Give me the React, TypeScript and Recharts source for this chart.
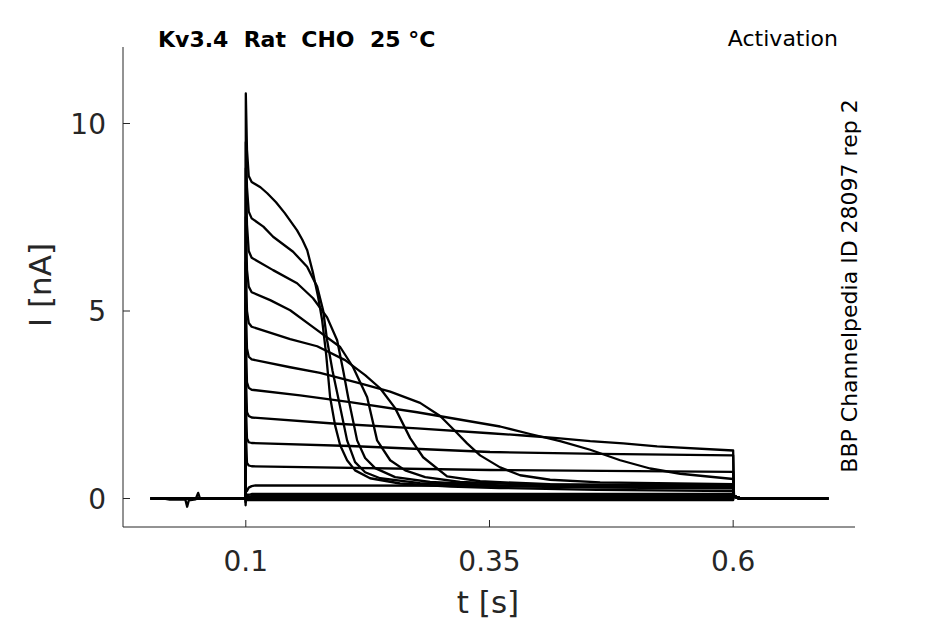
import { Line, LineChart, XAxis, YAxis } from "recharts";

type Point = [number, number];

const xTicks = [0.1, 0.35, 0.6];
const yTicks = [0, 5, 10];
const xDomain: [number, number] = [-0.026, 0.725];
const yDomain: [number, number] = [-0.76, 12.04];

// holding potential before the step (one sweep has a small artefact)
const holdingWithBlip: Point[] = [
  [0.0025, 0], [0.016, 0], [0.022, -0.03], [0.03, -0.02], [0.038, -0.03],
  [0.0398, -0.22], [0.0415, -0.05], [0.0485, -0.02], [0.0511, 0.15],
  [0.053, 0], [0.0995, 0],
];
const holding: Point[] = [[0.0025, 0], [0.0995, 0]];

// after the step back at 0.6 s
const tail: Point[] = [[0.6008, 0.08], [0.604, 0.02], [0.609, 0], [0.6975, 0]];

// sweeps during the step, largest first
const sweep1: Point[] = [
  [0.0998, -0.1], [0.1, 10.8], [0.1012, 9.3], [0.103, 8.6], [0.106, 8.44],
  [0.115, 8.3], [0.122, 8.14], [0.131, 7.9], [0.14, 7.61], [0.1526, 7.15],
  [0.158, 6.9], [0.163, 6.62], [0.169, 6.01], [0.1742, 5.37], [0.1783, 4.76],
  [0.1824, 3.85], [0.1865, 2.7], [0.1916, 1.95], [0.1968, 1.42], [0.2039, 1.02],
  [0.2121, 0.75], [0.2275, 0.54], [0.2583, 0.4], [0.31, 0.32], [0.36, 0.28],
  [0.46, 0.23], [0.6, 0.2],
];
const sweep2: Point[] = [
  [0.1, 9.5], [0.1012, 8.3], [0.103, 7.65], [0.106, 7.47], [0.118, 7.25],
  [0.128, 6.98], [0.1485, 6.58], [0.1629, 6.18], [0.1732, 5.65], [0.1793, 5.02],
  [0.1834, 4.22], [0.189, 3.4], [0.1947, 2.7], [0.2039, 1.55], [0.2121, 0.97],
  [0.2224, 0.7], [0.2378, 0.54], [0.2788, 0.41], [0.3609, 0.33], [0.4635, 0.29],
  [0.6, 0.27],
];
const sweep3: Point[] = [
  [0.1, 8.8], [0.1012, 7.3], [0.103, 6.6], [0.106, 6.42], [0.128, 6.09],
  [0.1526, 5.74], [0.169, 5.34], [0.1834, 4.83], [0.1937, 4.22], [0.2, 3.4],
  [0.205, 2.7], [0.2142, 1.55], [0.2224, 1.08], [0.2327, 0.81], [0.2532, 0.57],
  [0.2891, 0.44], [0.3609, 0.35], [0.4635, 0.32], [0.6, 0.3],
];
const sweep4: Point[] = [
  [0.1, 7.5], [0.1012, 6.1], [0.103, 5.65], [0.106, 5.5], [0.125, 5.29],
  [0.1455, 5.02], [0.169, 4.57], [0.1968, 4.04], [0.2101, 3.5], [0.2245, 2.7],
  [0.2347, 1.55], [0.2481, 1.02], [0.2635, 0.75], [0.284, 0.57], [0.3199, 0.44],
  [0.3814, 0.38], [0.4635, 0.35], [0.6, 0.33],
];
const sweep5: Point[] = [
  [0.1, 6.3], [0.1012, 5.0], [0.103, 4.68], [0.106, 4.58], [0.1455, 4.25],
  [0.1732, 4.06], [0.2019, 3.69], [0.2224, 3.29], [0.2378, 2.94], [0.2532, 2.41],
  [0.2686, 1.61], [0.2819, 1.1], [0.3065, 0.59], [0.3404, 0.46], [0.4122, 0.38],
  [0.5148, 0.36], [0.6, 0.35],
];
const sweep6: Point[] = [
  [0.1, 5.2], [0.1012, 4.0], [0.103, 3.78], [0.106, 3.71], [0.1455, 3.5],
  [0.1762, 3.35], [0.2173, 3.07], [0.2481, 2.85], [0.2788, 2.55], [0.2994, 2.2],
  [0.3147, 1.8], [0.327, 1.47], [0.3404, 1.15], [0.3609, 0.83], [0.3814, 0.62],
  [0.4122, 0.5], [0.4635, 0.43], [0.6, 0.38],
];
const sweep7: Point[] = [
  [0.1, 4.3], [0.1012, 3.1], [0.103, 2.95], [0.106, 2.9], [0.1557, 2.75],
  [0.207, 2.57], [0.2758, 2.3], [0.3609, 1.92], [0.3917, 1.72], [0.4225, 1.53],
  [0.4533, 1.3], [0.4841, 1.02], [0.5148, 0.8], [0.5456, 0.66], [0.6, 0.52],
];
const sweep8: Point[] = [
  [0.1, 3.4], [0.1012, 2.3], [0.103, 2.2], [0.106, 2.16], [0.1896, 2.0],
  [0.2758, 1.87], [0.3506, 1.74], [0.3848, 1.68], [0.4194, 1.61], [0.4533, 1.53],
  [0.4872, 1.47], [0.522, 1.39], [0.6, 1.28],
];
const sweep9: Point[] = [
  [0.1, 2.6], [0.1012, 1.6], [0.103, 1.5], [0.106, 1.48], [0.207, 1.4],
  [0.3506, 1.24], [0.4635, 1.19], [0.6, 1.15],
];
const sweep10: Point[] = [
  [0.1, 1.8], [0.1012, 0.95], [0.103, 0.88], [0.106, 0.86], [0.3506, 0.76],
  [0.6, 0.71],
];
const sweep11: Point[] = [
  [0.1, 0.25], [0.1012, 0.2], [0.103, 0.29], [0.106, 0.33], [0.11, 0.35],
  [0.3506, 0.34], [0.6, 0.32],
];
const sweep12: Point[] = [[0.1, 0.1], [0.103, 0.1], [0.106, 0.12], [0.6, 0.12]];
const sweep13: Point[] = [[0.1, 0.05], [0.106, 0.06], [0.6, 0.06]];
const sweep14: Point[] = [[0.1, 0.02], [0.6, 0.02]];
const sweep15: Point[] = [[0.1, -0.01], [0.6, -0.01]];
const sweep16: Point[] = [[0.0998, -0.18], [0.1, -0.04], [0.6, -0.04]];

const sweeps: { name: string; before: Point[]; step: Point[] }[] = [
  { name: "s1", before: holdingWithBlip, step: sweep1 },
  { name: "s2", before: holding, step: sweep2 },
  { name: "s3", before: holding, step: sweep3 },
  { name: "s4", before: holding, step: sweep4 },
  { name: "s5", before: holding, step: sweep5 },
  { name: "s6", before: holding, step: sweep6 },
  { name: "s7", before: holding, step: sweep7 },
  { name: "s8", before: holding, step: sweep8 },
  { name: "s9", before: holding, step: sweep9 },
  { name: "s10", before: holding, step: sweep10 },
  { name: "s11", before: holding, step: sweep11 },
  { name: "s12", before: holding, step: sweep12 },
  { name: "s13", before: holding, step: sweep13 },
  { name: "s14", before: holding, step: sweep14 },
  { name: "s15", before: holding, step: sweep15 },
  { name: "s16", before: holding, step: sweep16 },
];

const FONT = "DejaVu Sans";
const AXIS = "#262626";

function XTick({ x, y, payload }: any) {
  return (
    <g>
      <line x1={x} y1={y} x2={x} y2={y - 7} stroke={AXIS} />
      <text x={x} y={y + 44} textAnchor="middle" fontSize={28} fill={AXIS} fontFamily={FONT}>
        {payload.value}
      </text>
    </g>
  );
}

function YTick({ x, y, payload }: any) {
  return (
    <g>
      <line x1={x} y1={y} x2={x + 7} y2={y} stroke={AXIS} />
      <text x={x - 17} y={y + 10} textAnchor="end" fontSize={28} fill={AXIS} fontFamily={FONT}>
        {payload.value}
      </text>
    </g>
  );
}

export default function App() {
  return (
    <div
      style={{
        position: "absolute",
        left: 0,
        top: 0,
        width: 945,
        height: 624,
        background: "#fff",
      }}
    >
      <LineChart width={945} height={624} margin={{ top: 47, right: 90, bottom: 0, left: 0 }}>
        <XAxis
          type="number"
          dataKey="t"
          domain={xDomain}
          ticks={xTicks}
          interval={0}
          allowDataOverflow
          height={97}
          tickLine={false}
          tickSize={0}
          tickMargin={0}
          axisLine={{ stroke: AXIS }}
          tick={(props: any) => <XTick {...props} />}
        />
        <YAxis
          type="number"
          domain={yDomain}
          ticks={yTicks}
          interval={0}
          allowDataOverflow
          width={123}
          tickLine={false}
          tickSize={0}
          tickMargin={0}
          axisLine={{ stroke: AXIS }}
          tick={(props: any) => <YTick {...props} />}
        />
        {sweeps.map((s) => (
          <Line
            key={s.name}
            data={[...s.before, ...s.step, ...tail].map(([t, v]) => ({ t, v }))}
            dataKey="v"
            type="linear"
            stroke="#000"
            strokeWidth={2.3}
            strokeLinejoin="round"
            dot={false}
            activeDot={false}
            isAnimationActive={false}
          />
        ))}
      </LineChart>

      <svg
        width={945}
        height={624}
        style={{ position: "absolute", left: 0, top: 0, pointerEvents: "none" }}
        fontFamily={FONT}
      >
        <text x={158} y={47} fontSize={22} fontWeight="bold" fill="#000" xmlSpace="preserve">
          Kv3.4  Rat  CHO  25 °C
        </text>
        <text x={838} y={46} fontSize={22} textAnchor="end" fill="#000">
          Activation
        </text>
        <text
          transform="translate(857 286) rotate(-90)"
          fontSize={22}
          textAnchor="middle"
          fill="#000"
        >
          BBP Channelpedia ID 28097 rep 2
        </text>
        <text transform="translate(51 285) rotate(-90)" fontSize={31} textAnchor="middle" fill={AXIS}>
          I [nA]
        </text>
        <text x={488} y={613} fontSize={31} textAnchor="middle" fill={AXIS}>
          t [s]
        </text>
      </svg>
    </div>
  );
}
